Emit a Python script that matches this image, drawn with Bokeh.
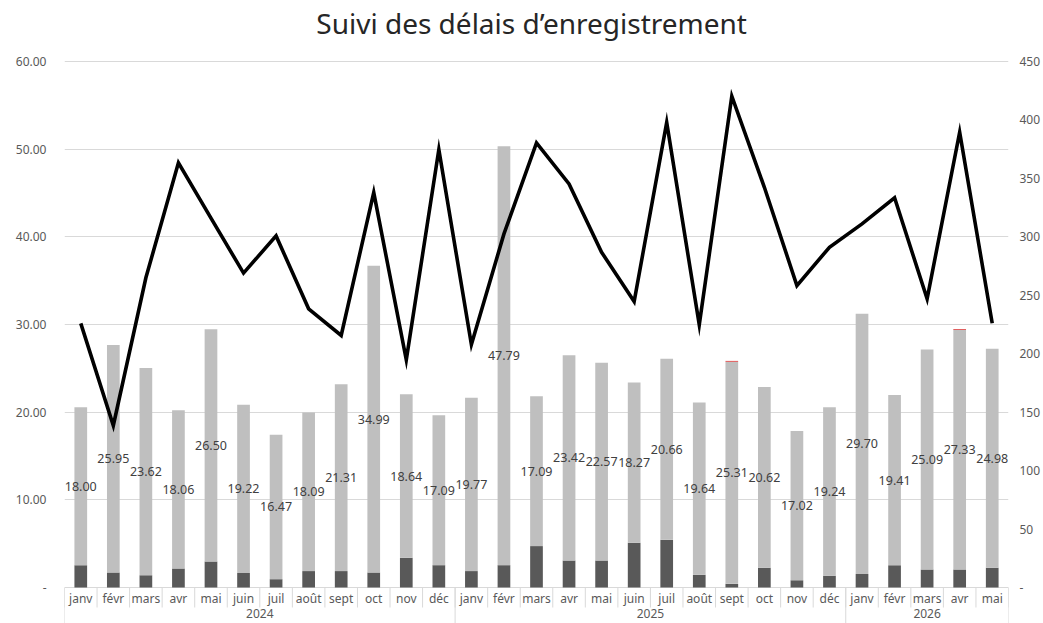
import numpy as np
from bokeh.plotting import figure
from bokeh.models import (ColumnDataSource, Range1d, LinearAxis, FixedTicker,
                          NumeralTickFormatter)
from bokeh.core.properties import value
from bokeh.embed import file_html
from bokeh.resources import INLINE

# ---------------- data ----------------
months = ["janv", "févr", "mars", "avr", "mai", "juin", "juil", "août", "sept", "oct", "nov", "déc",
          "janv", "févr", "mars", "avr", "mai", "juin", "juil", "août", "sept", "oct", "nov", "déc",
          "janv", "févr", "mars", "avr", "mai"]
years = ["2024"] * 12 + ["2025"] * 12 + ["2026"] * 5

dark = [2.55, 1.71, 1.41, 2.17, 2.97, 1.64, 0.95, 1.87, 1.87, 1.71, 3.39, 2.55,
        1.87, 2.55, 4.72, 3.08, 3.08, 5.10, 5.44, 1.45, 0.42, 2.25, 0.84, 1.33,
        1.53, 2.55, 2.05, 2.05, 2.25]
light = [18.00, 25.95, 23.62, 18.06, 26.50, 19.22, 16.47, 18.09, 21.31, 34.99, 18.64, 17.09,
         19.77, 47.79, 17.09, 23.42, 22.57, 18.27, 20.66, 19.64, 25.31, 20.62, 17.02, 19.24,
         29.70, 19.41, 25.09, 27.33, 24.98]
red = [0, 0, 0, 0, 0, 0, 0, 0, 0, 0, 0, 0,
       0, 0, 0, 0, 0, 0, 0, 0, 0.12, 0, 0, 0,
       0, 0, 0, 0.12, 0]
line_vals = [226.0, 138.6, 265.0, 363.3, 316.0, 269.0, 300.8, 238.4, 215.6, 337.9, 194.8, 374.7,
             207.9, 302.5, 380.4, 345.3, 286.8, 244.7, 397.8, 224.7, 420.3, 342.4, 258.3, 291.1,
             311.1, 333.4, 247.0, 389.5, 226.1]

left_ticks = [0, 10, 20, 30, 40, 50, 60]
right_ticks = [0, 50, 100, 150, 200, 250, 300, 350, 400, 450]
title_text = "Suivi des délais d’enregistrement"

# ---------------- layout constants ----------------
FONT = "Noto Sans"
W, H = 1043, 623
ZERO_PX = 587            # y=0 position (px from figure top)
PPU = (ZERO_PX - 61) / 60.0   # 60 sits at 61 px
YMIN = -(H - ZERO_PX) / PPU
YMAX = ZERO_PX / PPU
RATIO = 450 / 60.0


def ypx(px):
    """value on the left scale for a pixel row of the figure"""
    return (ZERO_PX - px) / PPU


n = len(months)
xs = np.arange(n) + 0.5

src = ColumnDataSource(dict(
    x=xs, dark=dark, light=light, red=red, line=line_vals,
    lab_y=np.array(dark) + np.array(light) / 2.0,
    lab=["%.2f" % v for v in light],
    month=months,
))

p = figure(width=W, height=H, output_backend="svg", toolbar_location=None,
           x_range=Range1d(0, n), y_range=Range1d(YMIN, YMAX),
           x_axis_location=None, min_border_top=0, min_border_left=64,
           min_border_right=0, min_border_bottom=0)
p.outline_line_color = None
p.background_fill_color = "white"
p.border_fill_color = "white"

p.extra_y_ranges = {"right": Range1d(YMIN * RATIO, YMAX * RATIO)}

# grid
p.xgrid.visible = False
p.ygrid.ticker = FixedTicker(ticks=left_ticks)
p.ygrid.grid_line_color = "#d9d9d9"
p.ygrid.grid_line_width = 1

# left axis
la = p.yaxis[0]
la.ticker = FixedTicker(ticks=left_ticks)
la.formatter = NumeralTickFormatter(format="0.00")
la.major_label_overrides = {0: "-"}
la.axis_line_color = None
la.major_tick_line_color = None
la.minor_tick_line_color = None
la.major_label_text_font = FONT
la.major_label_text_font_size = "12px"
la.major_label_text_color = "#595959"
la.major_label_standoff = 12

# right axis
ra = LinearAxis(y_range_name="right", ticker=FixedTicker(ticks=right_ticks),
                formatter=NumeralTickFormatter(format="0"))
ra.major_label_overrides = {0: "-"}
ra.axis_line_color = None
ra.major_tick_line_color = None
ra.minor_tick_line_color = None
ra.major_label_text_font = FONT
ra.major_label_text_font_size = "12px"
ra.major_label_text_color = "#595959"
ra.major_label_standoff = 5
p.add_layout(ra, "right")

# title
p.text(x=[n / 2.0 - 0.15], y=[ypx(22)], text=[title_text], text_align="center",
       text_baseline="middle", text_font=value(FONT), text_font_size="28px",
       text_color="#262626")

# stacked bars
p.vbar_stack(["dark", "light", "red"], x="x", width=0.39, source=src,
             color=["#595959", "#bfbfbf", "#e06060"], line_color=None)

# data labels (light segment)
p.text(x="x", y="lab_y", text="lab", source=src, text_align="center",
       text_baseline="middle", text_font=value(FONT), text_font_size="12.5px",
       text_color="#404040")

# line on secondary axis
p.line(x="x", y="line", source=src, y_range_name="right", line_color="black",
       line_width=3.6, line_join="miter")

# category axis drawn below zero
p.text(x="x", y=ypx(598), text="month", source=src, text_align="center",
       text_baseline="middle", text_font=value(FONT), text_font_size="12px",
       text_color="#595959")

bounds = np.arange(n + 1)
p.segment(x0=bounds, y0=np.zeros(n + 1), x1=bounds, y1=np.full(n + 1, ypx(607)),
          line_color="#d9d9d9", line_width=1)

ygroups = []
start = 0
for i in range(1, n + 1):
    if i == n or years[i] != years[start]:
        ygroups.append((years[start], start, i))
        start = i
yb = sorted(set([g[1] for g in ygroups] + [g[2] for g in ygroups]))
p.segment(x0=yb, y0=[0] * len(yb), x1=yb, y1=[YMIN] * len(yb),
          line_color="#d9d9d9", line_width=1)
p.text(x=[(g[1] + g[2]) / 2.0 for g in ygroups], y=[ypx(613)] * len(ygroups),
       text=[g[0] for g in ygroups], text_align="center", text_baseline="middle",
       text_font=value(FONT), text_font_size="12px", text_color="#595959")

open("out.html", "w").write(file_html(p, INLINE))
